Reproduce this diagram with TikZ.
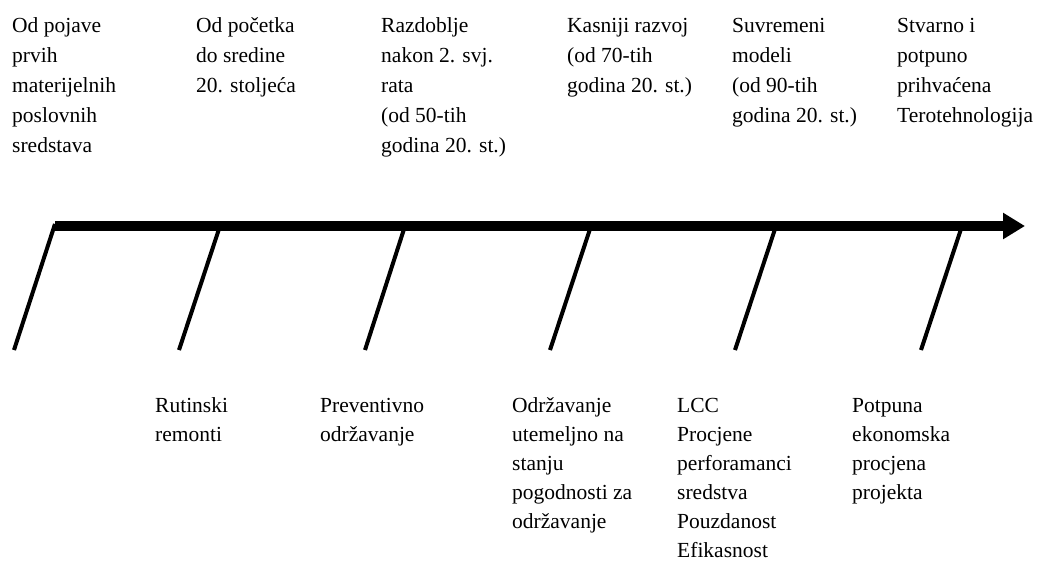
\documentclass[tikz,border=0pt]{standalone}
\usepackage{fontspec}
\setmainfont{Liberation Serif}
\usetikzlibrary{arrows.meta}
\begin{document}
\begin{tikzpicture}[x=1pt,y=-1pt,
  lbl/.style={anchor=base west, align=left, inner sep=0pt},
  toplbl/.style={lbl, font=\fontsize{21.5}{30}\selectfont},
  botlbl/.style={lbl, font=\fontsize{21.5}{29}\selectfont},
  axis/.style={line width=10pt, -{Triangle[length=22pt,width=25pt]}},
  tick/.style={line width=4pt}]
\useasboundingbox (0,0) rectangle (1038,571);
% axis
\coordinate (start) at (55,226);
\coordinate (end) at (1025,226);
\draw[axis] (start) -- (end);
% ticks
\coordinate (t1) at (55,224);  \coordinate (b1) at (14,350);
\coordinate (t2) at (220,226); \coordinate (b2) at (179,350);
\coordinate (t3) at (405,226); \coordinate (b3) at (365,350);
\coordinate (t4) at (591,226); \coordinate (b4) at (550,350);
\coordinate (t5) at (776,226); \coordinate (b5) at (735,350);
\coordinate (t6) at (962,226); \coordinate (b6) at (921,350);
\foreach \i in {1,...,6} \draw[tick] (t\i) -- (b\i);
% top labels (anchored at the baseline of their last line)
\node[toplbl] (p1) at (12,152) {Od pojave\\prvih\\materijelnih\\poslovnih\\sredstava};
\node[toplbl] (p2) at (196,92) {Od početka\\do sredine\\20. stoljeća};
\node[toplbl] (p3) at (381,152) {Razdoblje\\nakon 2. svj.\\rata\\(od 50-tih\\godina 20. st.)};
\node[toplbl] (p4) at (567,92) {Kasniji razvoj\\(od 70-tih\\godina 20. st.)};
\node[toplbl] (p5) at (732,122) {Suvremeni\\modeli\\(od 90-tih\\godina 20. st.)};
\node[toplbl] (p6) at (897,122) {Stvarno i\\potpuno\\prihvaćena\\Terotehnologija};
% bottom labels
\node[botlbl] (m2) at (155,441) {Rutinski\\remonti};
\node[botlbl] (m3) at (320,441) {Preventivno\\održavanje};
\node[botlbl] (m4) at (512,528) {Održavanje\\utemeljno na\\stanju\\pogodnosti za\\održavanje};
\node[botlbl] (m5) at (677,557) {LCC\\Procjene\\perforamanci\\sredstva\\Pouzdanost\\Efikasnost};
\node[botlbl] (m6) at (852,499) {Potpuna\\ekonomska\\procjena\\projekta};
\end{tikzpicture}
\end{document}
